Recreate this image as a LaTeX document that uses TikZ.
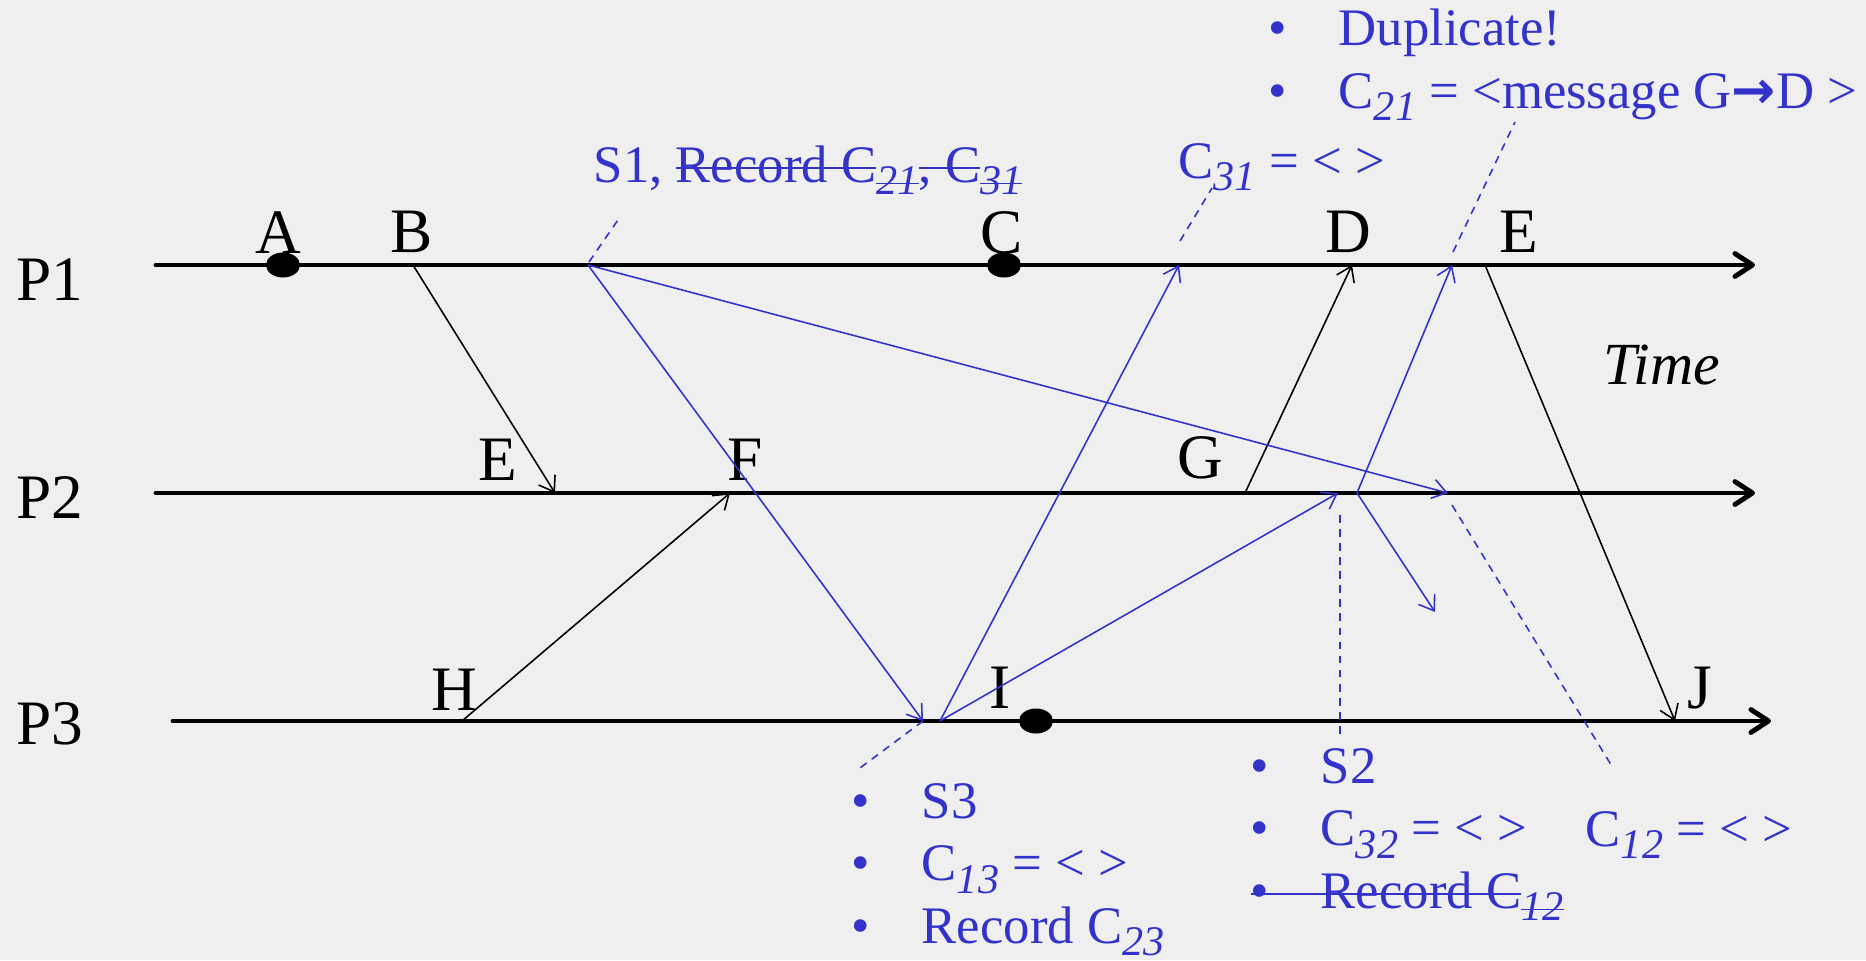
\documentclass[tikz,border=0pt]{standalone}
\usepackage{fontspec}
\setmainfont{Liberation Serif}
\newfontfamily\arrowfont{DejaVu Sans}
\usetikzlibrary{arrows.meta}
\definecolor{noteBlue}{RGB}{51,51,204}
\definecolor{slideGray}{RGB}{239,239,239}

\newcommand{\itm}{\makebox[0.7cm][l]{\textbullet}}
% channel index, set low and italic
\newcommand{\csub}[1]{\raisebox{-3.6pt}{\fontsize{12}{14}\selectfont\itshape #1}}
% struck-out text, rule at the height of the current font's x-height
\newsavebox{\struckbox}
\newcommand{\struck}[1]{\sbox{\struckbox}{#1}%
  \rlap{\rule[0.55ex]{\wd\struckbox}{0.4pt}}\usebox{\struckbox}}

\begin{document}
\begin{tikzpicture}[x=0.01cm, y=-0.01cm,
  procline/.style={line width=1.4pt, line cap=round,
                   -{Straight Barb[length=5pt, width=6.5pt, line cap=round, line join=round]}},
  msg/.style={line width=0.45pt, -{Straight Barb[length=4pt, width=5.5pt]}},
  bluemsg/.style={msg, draw=noteBlue},
  leader/.style={draw=noteBlue, line width=0.45pt, dash pattern=on 2.2pt off 1.8pt},
  evlabel/.style={inner sep=0pt, anchor=base, font=\fontsize{18}{21}\selectfont},
  proclabel/.style={inner sep=0pt, anchor=base west, font=\fontsize{18}{21}\selectfont},
  note/.style={inner sep=0pt, anchor=base west, text=noteBlue, align=left,
               font=\fontsize{15}{18.2}\selectfont}
]
  \fill[slideGray] (0,0) rectangle (1866,960);
  \useasboundingbox (0,0) rectangle (1866,960);

  % process time lines
  \coordinate (p1s) at (156,265);  \coordinate (p1e) at (1755,265);
  \coordinate (p2s) at (156,493);  \coordinate (p2e) at (1755,493);
  \coordinate (p3s) at (173,721);  \coordinate (p3e) at (1771,721);
  \draw[procline] (p1s) -- (p1e);
  \draw[procline] (p2s) -- (p2e);
  \draw[procline] (p3s) -- (p3e);

  \node[proclabel] (nP1) at (16,300) {P1};
  \node[proclabel] (nP2) at (16,518) {P2};
  \node[proclabel] (nP3) at (16,744) {P3};
  \node[proclabel, font=\fontsize{17}{20}\selectfont\itshape] (time) at (1603,384) {Time};

  % events on P1
  \coordinate (a)     at (283,265);
  \coordinate (b)     at (413,265);
  \coordinate (s1)    at (588,265);
  \coordinate (c)     at (1004,265);
  \coordinate (c31in) at (1179,265);
  \coordinate (d)     at (1352,265);
  \coordinate (dupin) at (1452,265);
  \coordinate (e1)    at (1485,265);
  % events on P2
  \coordinate (e2)    at (555,493);
  \coordinate (f)     at (730,493);
  \coordinate (g)     at (1245,493);
  \coordinate (c32in) at (1338,493);
  \coordinate (s2)    at (1357,493);
  \coordinate (c12in) at (1448,493);
  \coordinate (lost)  at (1435,612);
  % events on P3
  \coordinate (h)     at (462,721);
  \coordinate (s3in)  at (923,721);
  \coordinate (s3out) at (940,721);
  \coordinate (i)     at (1036,721);
  \coordinate (j)     at (1675,721);

  % checkpoints
  \fill (a) ellipse [x radius=0.17cm, y radius=0.125cm];
  \fill (c) ellipse [x radius=0.17cm, y radius=0.125cm];
  \fill (i) ellipse [x radius=0.17cm, y radius=0.125cm];

  \node[evlabel] (labA)  at (278,253)  {A};
  \node[evlabel] (labB)  at (412,252)  {B};
  \node[evlabel] (labC)  at (1002,253) {C};
  \node[evlabel] (labD)  at (1348,252) {D};
  \node[evlabel] (labE1) at (1519,252) {E};
  \node[evlabel] (labE2) at (498,480)  {E};
  \node[evlabel] (labF)  at (745,480)  {F};
  \node[evlabel] (labG)  at (1200,478) {G};
  \node[evlabel] (labH)  at (454,710)  {H};
  \node[evlabel] (labI)  at (1000,708) {I};
  \node[evlabel] (labJ)  at (1700,708) {J};

  % application messages
  \draw[msg] (b) -- (e2);
  \draw[msg] (h) -- (f);
  \draw[msg] (g) -- (d);
  \draw[msg] (e1) -- (j);

  % snapshot markers
  \draw[bluemsg] (s1) -- (s3in);
  \draw[bluemsg] (s1) -- (c12in);
  \draw[bluemsg] (s3out) -- (c31in);
  \draw[bluemsg] (s3out) -- (c32in);
  \draw[bluemsg] (s2) -- (dupin);
  \draw[bluemsg] (s2) -- (lost);

  % notes
  \node[note] (s1note) at (593,182)
    {S1, \struck{Record C}\csub{\struck{21}}\struck{, C}\csub{\struck{31}}};
  \node[note] (c31note) at (1178,178) {C\csub{31} = < >};
  \node[note] (dupnote) at (1268,45)
    {\begin{tabular}[t]{@{}l@{}}
      \itm Duplicate!\\[-0.2pt]
      \itm C\csub{21} = <message G{\arrowfont\bfseries →}D >
     \end{tabular}};
  \node[note] (s3note) at (851,818)
    {\begin{tabular}[t]{@{}l@{}}
      \itm S3\\[-0.4pt]
      \itm C\csub{13} = < >\\[-0.4pt]
      \itm Record C\csub{23}
     \end{tabular}};
  \node[note] (s2note) at (1250,783)
    {\begin{tabular}[t]{@{}l@{}}
      \itm S2\\[-0.4pt]
      \itm C\csub{32} = < >\\[-0.4pt]
      \struck{\itm Record C}\csub{\struck{12}}
     \end{tabular}};
  \node[note] (c12note) at (1585,846) {C\csub{12} = < >};

  % leaders from notes to markers
  \coordinate (s1tag)  at (620,217);
  \coordinate (s1foot) at (589,262);
  \coordinate (c31tag) at (1212,188);
  \coordinate (c31foot) at (1180,241);
  \coordinate (duptag) at (1515,122);
  \coordinate (dupfoot) at (1453,252);
  \coordinate (s3tag)  at (860,768);
  \coordinate (s2top)  at (1340,515);
  \coordinate (s2tag)  at (1340,734);
  \coordinate (c12top) at (1452,505);
  \coordinate (c12tag) at (1613,768);
  \draw[leader] (s1foot) -- (s1tag);
  \draw[leader] (c31foot) -- (c31tag);
  \draw[leader] (dupfoot) -- (duptag);
  \draw[leader] (s3in) -- (s3tag);
  \draw[leader] (s2top) -- (s2tag);
  \draw[leader] (c12top) -- (c12tag);
\end{tikzpicture}
\end{document}
